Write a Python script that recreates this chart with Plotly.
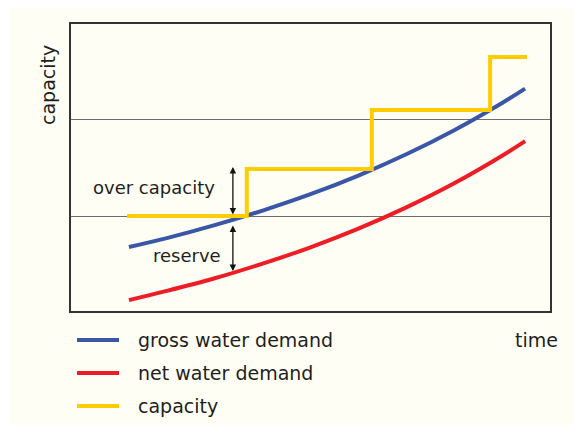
import plotly.graph_objects as go

# values (axis units 0-100, both axes unlabelled)
gross_x = [12.1, 20, 30, 40, 50, 60, 70, 80, 90, 94.8]
gross_y = [22.3, 25.4, 29.9, 35.0, 40.7, 47.2, 54.6, 63.0, 72.5, 77.5]

net_x = [12.1, 20, 30, 40, 50, 60, 70, 80, 90, 94.8]
net_y = [3.8, 7.0, 11.4, 16.5, 22.2, 28.7, 36.1, 44.5, 54.1, 59.2]

cap_x = [11.7, 36.7, 62.8, 87.5, 95.2]
cap_y = [33.1, 49.5, 70.0, 88.5, 88.5]

grid_levels = [33.0, 66.8]

names = ["gross water demand", "net water demand", "capacity"]
colors = ["#3a56a6", "#ee1c25", "#ffcc00"]

# reference frame in screen pixels; the page body adds an 8px offset
W, H, OFF = 582, 425, 8
L, R, T, B = 71, 550, 24, 311


def px(x):
    return (x - L) / (R - L)


def py(y):
    return (B - y) / (B - T)


FONT = "DejaVu Sans"
TXT = "#1e1e1e"

fig = go.Figure()
fig.add_trace(go.Scatter(x=gross_x, y=gross_y, mode="lines", line=dict(color=colors[0], width=4, shape="spline"), name=names[0]))
fig.add_trace(go.Scatter(x=net_x, y=net_y, mode="lines", line=dict(color=colors[1], width=4, shape="spline"), name=names[1]))
fig.add_trace(go.Scatter(x=cap_x, y=cap_y, mode="lines", line=dict(color=colors[2], width=4, shape="hv"), name=names[2]))

# cream panel behind everything
fig.add_shape(type="rect", xref="paper", yref="paper", layer="below",
              x0=px(10), x1=px(W + 2), y0=py(H + 2), y1=py(7),
              fillcolor="#fefef4", line_width=0)

# double arrows: over capacity / reserve
arrow_x = 33.8
for y_a, y_b in [(33.1, 50.2), (30.3, 13.9)]:
    fig.add_annotation(x=arrow_x, y=y_b, ax=arrow_x, ay=y_a, axref="x", ayref="y",
                       text="", showarrow=True, arrowhead=2, startarrowhead=2,
                       arrowside="end+start", arrowsize=1, arrowwidth=1.3, arrowcolor="#111")

fig.add_annotation(x=30.5, y=42.9, text="over capacity", showarrow=False, xanchor="right", yanchor="middle",
                   font=dict(family=FONT, size=18, color=TXT))
fig.add_annotation(x=31.7, y=19.2, text="reserve", showarrow=False, xanchor="right", yanchor="middle",
                   font=dict(family=FONT, size=18, color=TXT))

# axis captions
fig.add_annotation(xref="paper", yref="paper", x=px(48), y=py(85), text="capacity", textangle=-90,
                   xanchor="center", yanchor="middle",
                   showarrow=False, font=dict(family=FONT, size=19, color=TXT))
fig.add_annotation(xref="paper", yref="paper", x=px(536), y=py(340), text="time",
                   xanchor="center", yanchor="middle",
                   showarrow=False, font=dict(family=FONT, size=19, color=TXT))

# hand-made legend below the plot
for i, (name, col) in enumerate(zip(names, colors)):
    yy = py(340 + 33 * i)
    fig.add_shape(type="line", xref="paper", yref="paper", x0=px(77), x1=px(119), y0=yy, y1=yy,
                  line=dict(color=col, width=4))
    fig.add_annotation(xref="paper", yref="paper", x=px(136), y=yy, text=name,
                       xanchor="left", yanchor="middle",
                       showarrow=False, font=dict(family=FONT, size=19, color=TXT))

fig.update_xaxes(range=[0, 100], showgrid=False, zeroline=False, showticklabels=False, ticks="",
                 showline=True, mirror=True, linecolor="#333", linewidth=1.5)
fig.update_yaxes(range=[0, 100], tickvals=grid_levels, showgrid=True, gridcolor="#6e6e6e", gridwidth=1.3,
                 zeroline=False, showticklabels=False, ticks="",
                 showline=True, mirror=True, linecolor="#333", linewidth=1.5)

fig.update_layout(width=W - OFF, height=H - OFF,
                  margin=dict(l=L - OFF, r=W - R, t=T - OFF, b=H - B),
                  paper_bgcolor="white", plot_bgcolor="rgba(0,0,0,0)", showlegend=False,
                  font=dict(family=FONT, color=TXT))

fig.write_html("out.html")
